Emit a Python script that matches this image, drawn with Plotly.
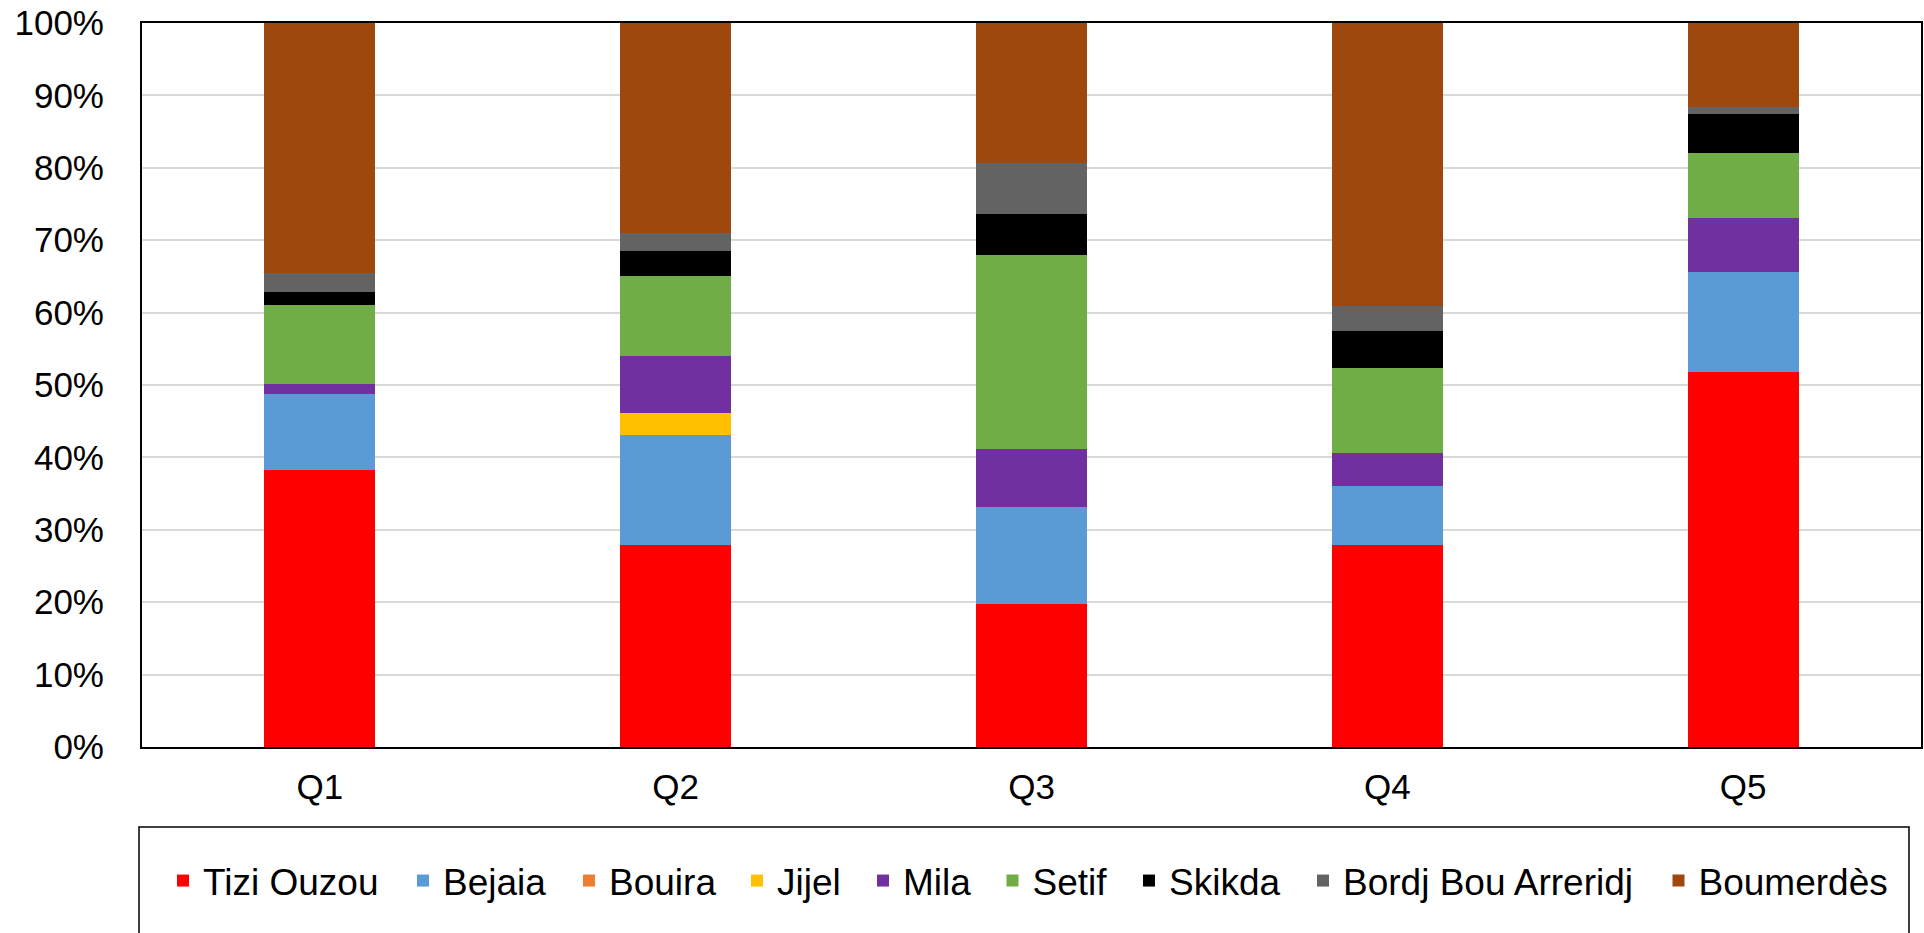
import plotly.graph_objects as go

categories = ["Q1", "Q2", "Q3", "Q4", "Q5"]

tizi_ouzou = [38.2, 27.9, 19.8, 27.9, 51.8]
bejaia     = [10.6, 15.2, 13.4, 8.2, 13.8]
bouira     = [0.0, 0.0, 0.0, 0.0, 0.0]
jijel      = [0.0, 3.0, 0.0, 0.0, 0.0]
mila       = [1.3, 7.9, 8.0, 4.5, 7.5]
setif      = [10.9, 11.1, 26.8, 11.8, 8.9]
skikda     = [1.8, 3.4, 5.6, 5.1, 5.4]
bordj_bba  = [2.7, 2.5, 7.1, 3.4, 1.0]
boumerdes  = [34.5, 29.0, 19.3, 39.1, 11.6]

series_names = ["Tizi Ouzou", "Bejaia", "Bouira", "Jijel", "Mila", "Setif",
                "Skikda", "Bordj Bou Arreridj", "Boumerdès"]
series_values = [tizi_ouzou, bejaia, bouira, jijel, mila, setif, skikda,
                 bordj_bba, boumerdes]
colors = ["#FF0000", "#5B9BD5", "#ED7D31", "#FFC000", "#7030A0", "#70AD47",
          "#000000", "#636363", "#9E480E"]

ytick_vals = [i / 10 for i in range(11)]
ytick_text = [f"{i*10}%" for i in range(11)]

# legend entry symbol centres (page pixels) -- layout only
legend_centres = [183, 423, 589, 757, 883, 1012.5, 1149, 1323, 1678.5]

FONT = "Liberation Sans, Arial, sans-serif"

# page geometry (body margin removed below, so figure starts at page 0,0)
OFF = 0
PLOT_L, PLOT_R, PLOT_T, PLOT_B = 142, 1921, 23, 747
PW = PLOT_R - PLOT_L
PH = PLOT_B - PLOT_T
FIG_W, FIG_H = 1924 - OFF, 933 - OFF

fig = go.Figure()
layout_legends = {}
for i, (name, vals, col) in enumerate(zip(series_names, series_values, colors)):
    key = "legend" if i == 0 else f"legend{i+1}"
    fig.add_trace(go.Bar(
        x=categories, y=[v / 100 for v in vals], name=name,
        marker=dict(color=col, line=dict(width=0)),
        legend=key,
    ))
    layout_legends[key] = dict(
        orientation="h",
        x=(legend_centres[i] - 20 - PLOT_L) / PW, xanchor="left",
        y=(PLOT_B - 881) / PH, yanchor="middle",
        font=dict(size=37, family=FONT, color="black"),
        bgcolor="rgba(0,0,0,0)", borderwidth=0,
    )

fig.update_layout(
    barmode="stack",
    bargap=0.688,
    width=FIG_W, height=FIG_H,
    margin=dict(l=PLOT_L - OFF, r=FIG_W + OFF - PLOT_R, t=PLOT_T - OFF,
                b=FIG_H - (PLOT_T - OFF) - PH, autoexpand=False),
    paper_bgcolor="white", plot_bgcolor="white",
    font=dict(family=FONT, color="black"),
    showlegend=True,
    shapes=[dict(type="rect", xref="paper", yref="paper",
                 x0=(139 - PLOT_L) / PW, x1=(1909 - PLOT_L) / PW,
                 y0=(PLOT_B - 827) / PH, y1=-0.4,
                 line=dict(color="black", width=1.5), fillcolor="rgba(0,0,0,0)",
                 layer="below")],
    **layout_legends,
)

fig.update_yaxes(
    range=[0, 1], tickvals=ytick_vals, ticktext=ytick_text,
    showgrid=True, gridcolor="#D9D9D9", gridwidth=1.5,
    showline=True, linecolor="black", linewidth=2, mirror=True,
    ticks="", tickfont=dict(size=35, family=FONT, color="black"),
    ticklabelstandoff=29, zeroline=False, ticklabeloverflow="allow",
    automargin=False,
)
fig.update_xaxes(
    showline=True, linecolor="black", linewidth=2, mirror=True,
    ticks="", tickfont=dict(size=35, family=FONT, color="black"),
    ticklabelstandoff=8, ticklabeloverflow="allow", automargin=False,
)

fig.write_html(
    "out.html",
    config={"displayModeBar": False},
    post_script="document.body.style.margin='0';document.body.style.overflow='hidden';",
)
